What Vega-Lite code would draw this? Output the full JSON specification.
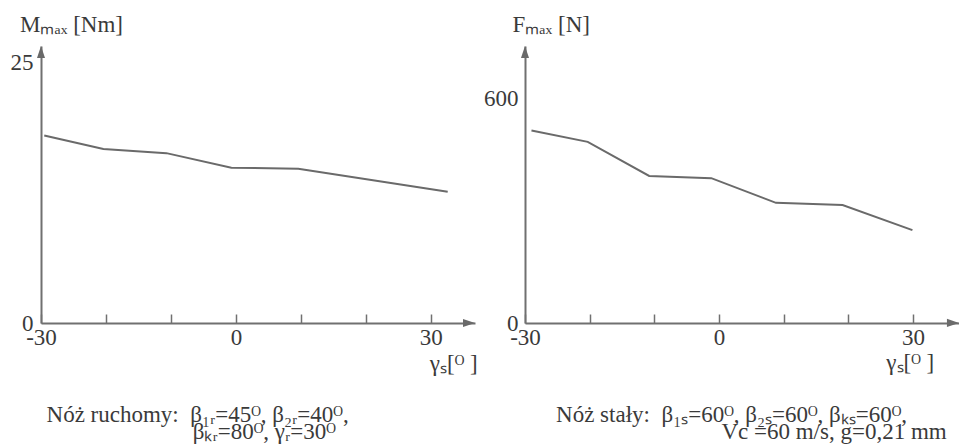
{
  "$schema": "https://vega.github.io/schema/vega-lite/v6.json",
  "padding": {"left": 0, "top": 13, "right": 0, "bottom": 0},
  "bounds": "flush",
  "spacing": 50,
  "config": {
    "view": {"stroke": null},
    "font": "Liberation Serif",
    "text": {"font": "Liberation Serif", "fontSize": 23, "color": "#3a3a3a"},
    "axis": {
      "grid": false,
      "title": null,
      "domainColor": "#707070",
      "domainWidth": 2,
      "tickColor": "#707070",
      "labelFont": "Liberation Serif",
      "labelFontSize": 23,
      "labelColor": "#3a3a3a",
      "labelFlush": false,
      "labelOverlap": false
    }
  },
  "datasets": {
    "moment": [
      {"gamma": -29.5, "M": 18.0},
      {"gamma": -20.4, "M": 16.7},
      {"gamma": -10.7, "M": 16.3},
      {"gamma": -0.7, "M": 14.9},
      {"gamma": 9.6, "M": 14.8},
      {"gamma": 32.6, "M": 12.6}
    ],
    "force": [
      {"gamma": -29.0, "F": 514},
      {"gamma": -20.3, "F": 484},
      {"gamma": -10.8, "F": 393},
      {"gamma": -1.2, "F": 387},
      {"gamma": 8.8, "F": 321},
      {"gamma": 19.1, "F": 315},
      {"gamma": 29.9, "F": 248}
    ]
  },
  "hconcat": [
    {
      "width": 434,
      "height": 277,
      "encoding": {
        "x": {
          "type": "quantitative",
          "scale": {"domain": [-30, 36.8], "nice": false, "zero": false},
          "axis": {
            "values": [-30, -20, -10, 0, 10, 20, 30],
            "labelExpr": "datum.value == -30 ? '-30' : (datum.value == 0 || datum.value == 30 ? datum.label : '')",
            "tickSize": -9,
            "tickWidth": 1.5,
            "labelPadding": 12
          }
        },
        "y": {
          "type": "quantitative",
          "scale": {"domain": [0, 26.58], "nice": false},
          "axis": {"values": [0, 25], "ticks": false, "labelPadding": 8, "minExtent": 41, "maxExtent": 41}
        }
      },
      "layer": [
        {
          "data": {"name": "moment"},
          "mark": {"type": "line", "color": "#6a6a6a", "strokeWidth": 2},
          "encoding": {"x": {"field": "gamma"}, "y": {"field": "M"}}
        },
        {
          "data": {"values": [{}]},
          "mark": {"type": "point", "filled": true, "opacity": 1},
          "encoding": {
            "x": {"datum": -30},
            "y": {"datum": 26.58},
            "shape": {"value": "M0,0L-0.8,2.4L0.8,2.4Z"},
            "size": {"value": 100},
            "color": {"value": "#696969"}
          }
        },
        {
          "data": {"values": [{}]},
          "mark": {"type": "point", "filled": true, "opacity": 1},
          "encoding": {
            "x": {"datum": 36.8},
            "y": {"datum": 0.01},
            "shape": {"value": "M0,0L-2.4,-0.8L-2.4,0.8Z"},
            "size": {"value": 100},
            "color": {"value": "#6a6a6a"}
          }
        },
        {
          "data": {"values": [{}]},
          "mark": {"type": "text", "align": "left", "baseline": "alphabetic"},
          "encoding": {"x": {"datum": -33.23}, "y": {"datum": 27.96}, "text": {"value": "Mₘₐₓ [Nm]"}}
        },
        {
          "data": {"values": [{}]},
          "mark": {"type": "text", "align": "left", "baseline": "alphabetic"},
          "encoding": {"x": {"datum": 29.85}, "y": {"datum": -4.6}, "text": {"value": "γₛ[ᴼ ]"}}
        },
        {
          "data": {"values": [{}]},
          "mark": {"type": "text", "align": "left", "baseline": "alphabetic"},
          "encoding": {"x": {"datum": -29.15}, "y": {"datum": -9.5}, "text": {"value": "Nóż ruchomy:\u00a0\u00a0β₁ᵣ=45ᴼ, β₂ᵣ=40ᴼ,"}}
        },
        {
          "data": {"values": [{}]},
          "mark": {"type": "text", "align": "left", "baseline": "alphabetic"},
          "encoding": {"x": {"datum": -6.65}, "y": {"datum": -11.15}, "text": {"value": "βₖᵣ=80ᴼ, γᵣ=30ᴼ"}}
        }
      ]
    },
    {
      "width": 434,
      "height": 277,
      "encoding": {
        "x": {
          "type": "quantitative",
          "scale": {"domain": [-30, 37.1], "nice": false, "zero": false},
          "axis": {
            "values": [-30, -20, -10, 0, 10, 20, 30],
            "labelExpr": "datum.value == -30 ? '-30' : (datum.value == 0 || datum.value == 30 ? datum.label : '')",
            "tickSize": -9,
            "tickWidth": 1.5,
            "labelPadding": 12
          }
        },
        "y": {
          "type": "quantitative",
          "scale": {"domain": [0, 740], "nice": false},
          "axis": {"values": [0, 600], "ticks": false, "labelPadding": 7, "minExtent": 42, "maxExtent": 42}
        }
      },
      "layer": [
        {
          "data": {"name": "force"},
          "mark": {"type": "line", "color": "#6a6a6a", "strokeWidth": 2},
          "encoding": {"x": {"field": "gamma"}, "y": {"field": "F"}}
        },
        {
          "data": {"values": [{}]},
          "mark": {"type": "text", "align": "left", "baseline": "alphabetic"},
          "encoding": {"x": {"datum": -31.93}, "y": {"datum": 777.4}, "text": {"value": "Fₘₐₓ [N]"}}
        },
        {
          "data": {"values": [{}]},
          "mark": {"type": "text", "align": "left", "baseline": "alphabetic"},
          "encoding": {"x": {"datum": 25.87}, "y": {"datum": -126}, "text": {"value": "γₛ[ᴼ ]"}}
        },
        {
          "data": {"values": [{}]},
          "mark": {"type": "text", "align": "left", "baseline": "alphabetic"},
          "encoding": {"x": {"datum": -25.2}, "y": {"datum": -264}, "text": {"value": "Nóż stały:\u00a0\u00a0β₁ₛ=60ᴼ, β₂ₛ=60ᴼ, βₖₛ=60ᴼ,"}}
        },
        {
          "data": {"values": [{}]},
          "mark": {"type": "text", "align": "left", "baseline": "alphabetic"},
          "encoding": {"x": {"datum": 0.37}, "y": {"datum": -310}, "text": {"value": "Vc =60 m/s, g=0,21 mm"}}
        },
        {
          "data": {"values": [{}]},
          "mark": {"type": "point", "filled": true, "opacity": 1},
          "encoding": {
            "x": {"datum": -30},
            "y": {"datum": 740},
            "shape": {"value": "M0,0L-0.8,2.4L0.8,2.4Z"},
            "size": {"value": 101},
            "color": {"value": "dimgray"}
          }
        },
        {
          "data": {"values": [{}]},
          "mark": {"type": "point", "filled": true, "opacity": 1},
          "encoding": {
            "x": {"datum": 37.1},
            "y": {"datum": 0.3},
            "shape": {"value": "M0,0L-2.4,-0.8L-2.4,0.8Z"},
            "size": {"value": 101},
            "color": {"value": "#6b6b6b"}
          }
        }
      ]
    }
  ]
}
